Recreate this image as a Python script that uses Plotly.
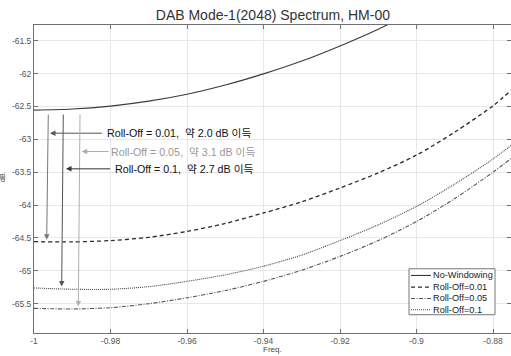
import plotly.graph_objects as go

# ---------------- data ----------------
freq = [-1.0, -0.99, -0.98, -0.97, -0.96, -0.95, -0.94, -0.93, -0.92, -0.91, -0.90, -0.89, -0.88, -0.875]

no_windowing = [-62.556, -62.54, -62.495, -62.42, -62.315, -62.175, -62.005, -61.81, -61.58, -61.325, -61.04, None, None, None]
rolloff_001 = [-64.556, -64.56, -64.54, -64.49, -64.40, -64.28, -64.12, -63.95, -63.74, -63.51, -63.24, -62.89, -62.49, -62.24]
rolloff_005 = [-65.57, -65.58, -65.56, -65.50, -65.41, -65.30, -65.16, -64.99, -64.78, -64.54, -64.25, -63.90, -63.50, -63.28]
rolloff_01 = [-65.26, -65.28, -65.28, -65.24, -65.16, -65.06, -64.93, -64.76, -64.54, -64.30, -64.02, -63.68, -63.30, -63.08]

series_names = ["No-Windowing", "Roll-Off=0.01", "Roll-Off=0.05", "Roll-Off=0.1"]
series_values = [no_windowing, rolloff_001, rolloff_005, rolloff_01]

x_tickvals = [-1.0, -0.98, -0.96, -0.94, -0.92, -0.90, -0.88]
x_ticktext = ["-1", "-0.98", "-0.96", "-0.94", "-0.92", "-0.9", "-0.88"]
y_tickvals = [-61.5, -62.0, -62.5, -63.0, -63.5, -64.0, -64.5, -65.0, -65.5]
y_ticktext = ["-61.5", "-62", "-62.5", "-63", "-63.5", "-64", "-64.5", "-65", "-65.5"]

title_text = "DAB Mode-1(2048) Spectrum, HM-00"
x_title = "Freq."
y_title = "dB."

# gain annotations
gain_labels = ["Roll-Off = 0.01,\u00a0 약 2.0 dB 이득",
               "Roll-Off = 0.05,\u00a0 약 3.1 dB 이득",
               "Roll-Off = 0.1,\u00a0 약 2.7 dB 이득"]
# vertical arrows: from below No-Windowing minimum down to each curve
v_arrow_x_top = [-0.99626, -0.98797, -0.99234]
v_arrow_x_tip = [-0.99668, -0.98842, -0.99276]
v_arrow_y_top = [-62.60, -62.60, -62.60]
v_arrow_y_tip = [-64.527, -65.54, -65.237]
# horizontal arrows from labels to the vertical arrows
h_arrow_x_tail = [-0.98188, -0.98013, -0.97969]
h_arrow_x_tip = [-0.99582, -0.98753, -0.99163]
h_arrow_y = [-62.907, -63.186, -63.449]
label_x = [-0.98111, -0.98006, -0.97902]

# ---------------- styles ----------------
FONT = "Liberation Sans, Arial, Noto Sans CJK KR, sans-serif"
line_styles = [
    dict(color="#3a3a3a", width=1.1, dash="solid"),
    dict(color="#2a2a2a", width=1.3, dash="4px,3px"),
    dict(color="#555555", width=1.1, dash="4px,1.5px,1px,1.5px"),
    dict(color="#444444", width=1.1, dash="1px,1px"),
]
v_arrow_colors = ["#777777", "#b0b0b0", "#555555"]
h_arrow_colors = ["#555555", "#aaaaaa", "#333333"]
label_colors = ["#111111", "#999999", "#111111"]

fig = go.Figure()
for name, vals, st in zip(series_names, series_values, line_styles):
    fig.add_trace(go.Scatter(x=freq, y=vals, mode="lines", name=name,
                             line=dict(shape="spline", smoothing=0.8, **st),
                             showlegend=False, hoverinfo="skip"))

annotations = []
for i in range(3):
    annotations.append(dict(x=v_arrow_x_tip[i], y=v_arrow_y_tip[i], ax=v_arrow_x_top[i], ay=v_arrow_y_top[i],
                            xref="x", yref="y", axref="x", ayref="y", text="", showarrow=True,
                            arrowhead=2, arrowsize=1.1, arrowwidth=1, arrowcolor=v_arrow_colors[i], standoff=0))
    annotations.append(dict(x=h_arrow_x_tip[i], y=h_arrow_y[i], ax=h_arrow_x_tail[i], ay=h_arrow_y[i],
                            xref="x", yref="y", axref="x", ayref="y", text="", showarrow=True,
                            arrowhead=2, arrowsize=1.1, arrowwidth=1, arrowcolor=h_arrow_colors[i], standoff=0))
    annotations.append(dict(x=label_x[i], y=h_arrow_y[i], xref="x", yref="y", text=gain_labels[i],
                            showarrow=False, xanchor="left", yanchor="middle", borderpad=0,
                            font=dict(family=FONT, size=10.7, color=label_colors[i])))

# axis titles
annotations.append(dict(x=0.5, y=-0.054, xref="paper", yref="paper", text=x_title, showarrow=False,
                        xanchor="center", yanchor="middle", font=dict(family=FONT, size=8, color="#444444")))
annotations.append(dict(x=-0.065, y=0.51, xref="paper", yref="paper", text=y_title, showarrow=False,
                        textangle=-90, xanchor="center", yanchor="middle",
                        font=dict(family=FONT, size=7, color="#444444")))

# hand-built compact legend (MATLAB style)
W, H = 477.0, 308.3
def px(xp):
    return (xp - 34) / W
def py(yp):
    return (333.3 - yp) / H

shapes = [dict(type="rect", xref="paper", yref="paper", x0=px(409), x1=px(495), y0=py(315), y1=py(269),
               line=dict(color="#777777", width=1), fillcolor="white", layer="above")]
row_y = [275.7, 287.3, 298.7, 310.0]
for name, st, ry in zip(series_names, line_styles, row_y):
    shapes.append(dict(type="line", xref="paper", yref="paper", x0=px(411), x1=px(431), y0=py(ry), y1=py(ry),
                       line=dict(color=st["color"], width=st["width"], dash=st["dash"]), layer="above"))
    annotations.append(dict(x=px(431.5), y=py(ry), xref="paper", yref="paper", text=name, showarrow=False,
                            xanchor="left", yanchor="middle", borderpad=0,
                            font=dict(family=FONT, size=9.2, color="#222222")))

axis_common = dict(showgrid=True, gridcolor="#e8e8e8", gridwidth=1, zeroline=False,
                   showline=True, linecolor="#707070", linewidth=1, mirror="ticks",
                   ticks="inside", ticklen=4, tickcolor="#707070",
                   tickfont=dict(family=FONT, size=8.5, color="#555555"))

fig.update_layout(
    width=511, height=356,
    margin=dict(l=34, r=0, t=25, b=22.7),
    paper_bgcolor="white", plot_bgcolor="white",
    title=dict(text=title_text, x=0.534, xanchor="center", y=1 - 15 / 356, yanchor="middle",
               font=dict(family=FONT, size=14, color="#333333")),
    xaxis=dict(range=[-1.0, -0.8753], tickvals=x_tickvals, ticktext=x_ticktext, **axis_common),
    yaxis=dict(range=[-65.945, -61.262], tickvals=y_tickvals, ticktext=y_ticktext, **axis_common),
    annotations=annotations, shapes=shapes, showlegend=False, hovermode=False,
)

fig.write_html("out.html", config={"displayModeBar": False, "staticPlot": True},
               post_script="document.body.style.margin='0';document.body.style.overflow='hidden';")
